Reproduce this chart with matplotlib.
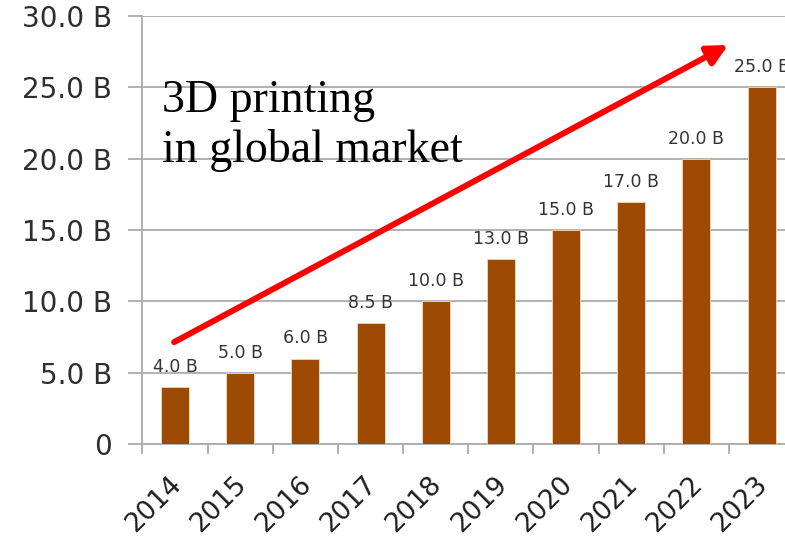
import matplotlib
matplotlib.use("Agg")
import matplotlib.pyplot as plt
import matplotlib.transforms as mtransforms
import numpy as np

years = ["2014", "2015", "2016", "2017", "2018", "2019", "2020", "2021", "2022", "2023"]
values = [4.0, 5.0, 6.0, 8.5, 10.0, 13.0, 15.0, 17.0, 20.0, 25.0]
value_labels = ["4.0 B", "5.0 B", "6.0 B", "8.5 B", "10.0 B", "13.0 B", "15.0 B", "17.0 B", "20.0 B", "25.0 B"]
y_ticks = [0, 5, 10, 15, 20, 25, 30]
y_tick_labels = ["0", "5.0 B", "10.0 B", "15.0 B", "20.0 B", "25.0 B", "30.0 B"]
title_text = "3D printing\nin global market"

fig = plt.figure(figsize=(7.85, 5.39), dpi=100)
ax = fig.add_axes([0.1815, 0.176, 0.8185, 0.794])

x = np.arange(len(years))
bars = ax.bar(x, values, width=0.43, color="#9C4A04", edgecolor="#F4D9B8", linewidth=0.6, zorder=3)

grid_c = "#ABABAB"
ax.set_ylim(0, 30)
ax.set_xlim(-0.5, 9.36)
ax.set_yticks(y_ticks)
ax.set_yticklabels(y_tick_labels)
ax.yaxis.grid(True, color=grid_c, linewidth=1.3, zorder=0)
ax.set_axisbelow(True)

ax.set_xticks(x)
ax.set_xticklabels(years, rotation=45, ha="right", rotation_mode="anchor")
ax.set_xticks(np.arange(len(years)) - 0.5, minor=True)
ax.tick_params(axis="x", which="major", length=0, pad=12, labelsize=19, labelcolor="#1E1E1E")
ax.tick_params(axis="x", which="minor", length=7, color=grid_c, width=1.3)
ax.tick_params(axis="y", which="major", length=10, color=grid_c, width=1.3, pad=12, labelsize=20, labelcolor="#2E2E2E")

offset = mtransforms.ScaledTranslation(-5 / 72, -8 / 72, fig.dpi_scale_trans)
for lbl in ax.get_xticklabels():
    lbl.set_transform(lbl.get_transform() + offset)

for s in ["top", "right"]:
    ax.spines[s].set_visible(False)
ax.spines["left"].set_color(grid_c)
ax.spines["left"].set_linewidth(1.3)
ax.spines["bottom"].set_color(grid_c)
ax.spines["bottom"].set_linewidth(1.3)

ax.bar_label(bars, labels=value_labels, padding=8, fontsize=12.5, color="#333333")

ax.text(-0.2, 19.78, title_text, fontsize=33, family="Liberation Serif", color="black",
        va="baseline", ha="left", linespacing=1.22, zorder=5)

ax.annotate("", xy=(8.49, 27.98), xytext=(-0.015, 7.15),
            arrowprops=dict(arrowstyle="-|>", color="#FF0000", lw=4.3, mutation_scale=30,
                            shrinkA=0, shrinkB=0), zorder=6)

fig.savefig("out.png", dpi=100)
